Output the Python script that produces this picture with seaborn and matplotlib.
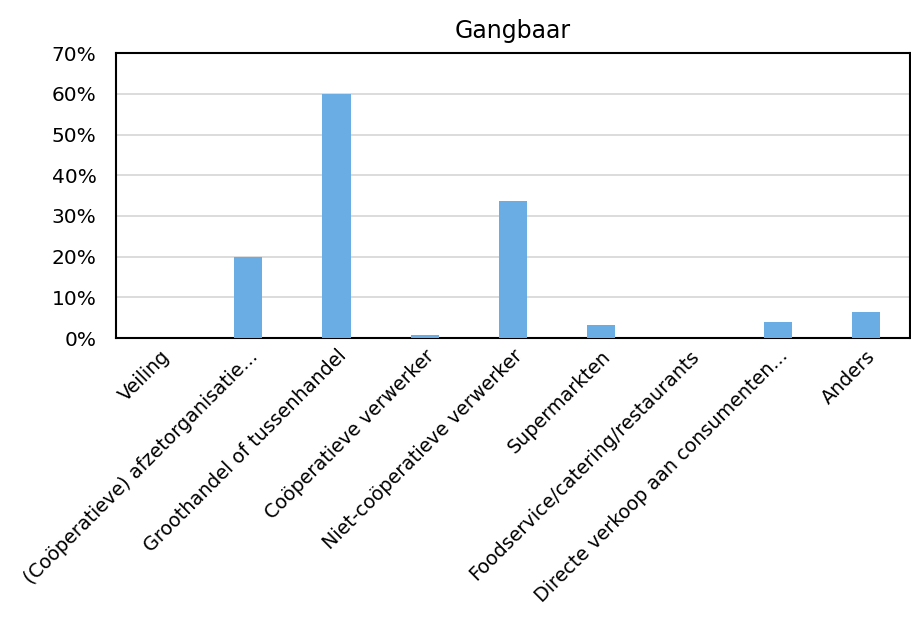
import pandas as pd
import seaborn as sns
import matplotlib.pyplot as plt
from matplotlib.ticker import PercentFormatter

# Data
categories = [
    "Veiling",
    "(Coöperatieve) afzetorganisatie...",
    "Groothandel of tussenhandel",
    "Coöperatieve verwerker",
    "Niet-coöperatieve verwerker",
    "Supermarkten",
    "Foodservice/catering/restaurants",
    "Directe verkoop aan consumenten...",
    "Anders",
]
shares = [0.0, 20.0, 60.0, 0.7, 33.6, 3.2, 0.0, 4.0, 6.4]

df = pd.DataFrame({"kanaal": categories, "aandeel": shares})

sns.set_style("white")
plt.rcParams['font.family'] = ['DejaVu Sans']

fig = plt.figure(figsize=(9.12, 6.17), dpi=100)
ax = fig.add_axes([0.127, 0.452, 0.871, 0.462])

sns.barplot(data=df, x="kanaal", y="aandeel", color="#6aade4",
            width=0.32, saturation=1, linewidth=0, ax=ax, zorder=3)

ax.set_ylim(0, 70)
ax.set_yticks(range(0, 71, 10))
ax.yaxis.set_major_formatter(PercentFormatter(decimals=0))
ax.grid(axis="y", color="#d9d9d9", linewidth=1.3, zorder=0)
ax.set_axisbelow(True)

for side in ["left", "bottom", "top", "right"]:
    ax.spines[side].set_color("black")
    ax.spines[side].set_linewidth(1.5)

ax.set_xlabel("")
ax.set_ylabel("")
ax.tick_params(axis="y", length=0, labelsize=14.5, pad=14, labelcolor="black")
ax.tick_params(axis="x", length=0, labelsize=13.8, pad=6, labelcolor="black")
plt.setp(ax.get_xticklabels(), rotation=45, ha="right", rotation_mode="anchor")

ax.set_title("Gangbaar", fontsize=17, pad=11, color="black")

fig.savefig("out.png", dpi=100)
